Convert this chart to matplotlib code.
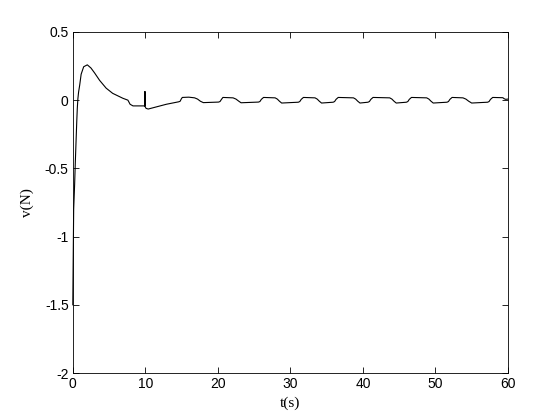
import matplotlib
matplotlib.use("Agg")
import matplotlib.pyplot as plt

# response (breakpoints of the trace)
t = [0, 0.05, 0.12, 0.25, 0.35, 0.45, 0.55, 0.62, 0.7, 0.8, 0.95, 1.15, 1.5, 2.0, 2.5,
     3.0, 3.7, 4.6, 5.5, 6.9, 7.6, 7.75, 7.9, 8.3, 9.95, 9.95, 9.95, 10.1,
     10.4, 12.9, 14.6, 14.8, 14.95, 15.1, 16.0, 16.8, 17.2, 17.6, 18.0,
     20.1, 20.3, 20.5, 20.7, 22.1, 22.5, 22.9, 23.2,
     25.6, 25.8, 26.0, 26.3, 27.9, 28.2, 28.5, 28.8,
     31.1, 31.3, 31.5, 31.8, 33.4, 33.7, 34.0, 34.3,
     35.9, 36.1, 36.3, 36.6, 38.7, 39.0, 39.3, 39.6,
     40.7, 40.9, 41.1, 41.4, 43.7, 44.0, 44.3, 44.6,
     46.0, 46.2, 46.4, 46.7, 48.8, 49.1, 49.4, 49.7,
     51.6, 51.8, 52.0, 52.3, 53.8, 54.2, 54.6, 55.0,
     57.2, 57.4, 57.6, 57.9, 59.3, 59.5, 59.7, 60.0]
v = [-1.5, -1.2, -0.8, -0.62, -0.45, -0.3, -0.15, -0.06, 0.01, 0.06, 0.11, 0.19, 0.245, 0.259, 0.236,
     0.2, 0.145, 0.088, 0.05, 0.014, 0.0, -0.015, -0.03, -0.042, -0.042, 0.063, -0.045, -0.06,
     -0.065, -0.03, -0.012, -0.008, 0.008, 0.02, 0.022, 0.017, 0.008, -0.008, -0.018,
     -0.014, -0.01, 0.006, 0.02, 0.017, 0.008, -0.008, -0.019,
     -0.014, -0.01, 0.006, 0.02, 0.017, 0.008, -0.008, -0.021,
     -0.015, -0.01, 0.006, 0.02, 0.017, 0.008, -0.008, -0.021,
     -0.015, -0.01, 0.006, 0.02, 0.017, 0.008, -0.008, -0.021,
     -0.015, -0.01, 0.006, 0.02, 0.017, 0.008, -0.008, -0.021,
     -0.015, -0.01, 0.006, 0.02, 0.017, 0.008, -0.008, -0.021,
     -0.015, -0.01, 0.006, 0.02, 0.017, 0.008, -0.008, -0.021,
     -0.015, -0.01, 0.006, 0.02, 0.018, 0.01, 0.006, 0.008]

xticks = [0, 10, 20, 30, 40, 50, 60]
yticks = [-2, -1.5, -1, -0.5, 0, 0.5]
ylabels = ["-2", "-1.5", "-1", "-0.5", "0", "0.5"]

fig = plt.figure(figsize=(5.6, 4.2), dpi=100)
ax = fig.add_axes([0.13, 0.1119, 0.777, 0.812])
ax.plot(t, v, color="black", lw=0.8, clip_on=False)

ax.set_xlim(0, 60)
ax.set_ylim(-2, 0.5)
ax.set_xticks(xticks)
ax.set_yticks(yticks)
ax.set_yticklabels(ylabels)
ax.tick_params(direction="in", top=True, right=True, length=4, width=0.6,
               labelsize=10, pad=3)
for lab in ax.get_xticklabels() + ax.get_yticklabels():
    lab.set_family("Liberation Sans")
for sp in ax.spines.values():
    sp.set_linewidth(0.6)

ax.set_xlabel("t(s)", family="Liberation Serif", fontsize=11, labelpad=4)
ax.set_ylabel("v(N)", family="Liberation Serif", fontsize=11, labelpad=8)

fig.savefig("out.png", dpi=100)
